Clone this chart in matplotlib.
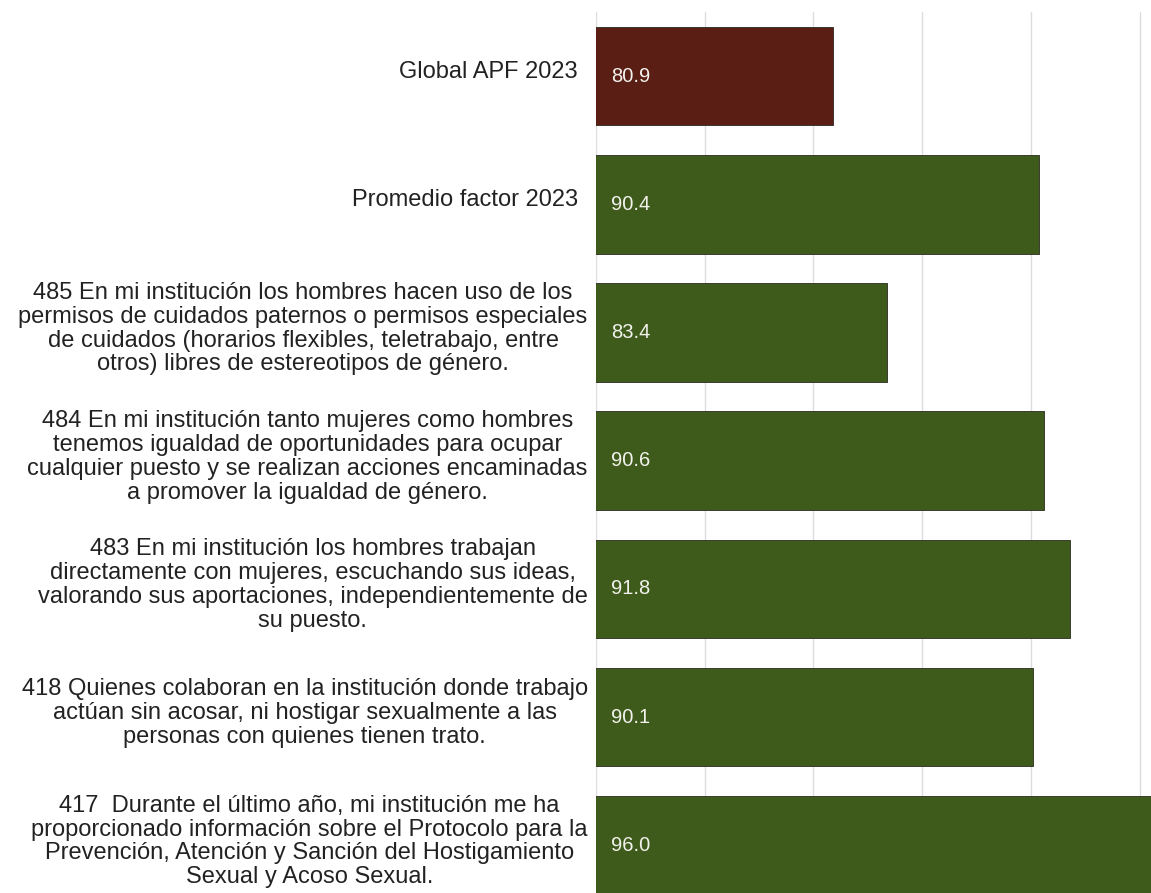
import numpy as np
import matplotlib.pyplot as plt

plt.rcParams['font.family'] = ['Liberation Sans', 'DejaVu Sans']

etiquetas = [
    "Global APF 2023",
    "Promedio factor 2023",
    "485 En mi institución los hombres hacen uso de los\npermisos de cuidados paternos o permisos especiales\nde cuidados (horarios flexibles, teletrabajo, entre\notros) libres de estereotipos de género.",
    "484 En mi institución tanto mujeres como hombres\ntenemos igualdad de oportunidades para ocupar\ncualquier puesto y se realizan acciones encaminadas\na promover la igualdad de género.",
    "483 En mi institución los hombres trabajan\ndirectamente con mujeres, escuchando sus ideas,\nvalorando sus aportaciones, independientemente de\nsu puesto.",
    "418 Quienes colaboran en la institución donde trabajo\nactúan sin acosar, ni hostigar sexualmente a las\npersonas con quienes tienen trato.",
    "417  Durante el último año, mi institución me ha\nproporcionado información sobre el Protocolo para la\nPrevención, Atención y Sanción del Hostigamiento\nSexual y Acoso Sexual.",
]
valores = [80.9, 90.4, 83.4, 90.6, 91.8, 90.1, 96.0]
colores = ["#5a1e14"] + ["#3e5b1b"] * 6

W, H = 1151, 893
fig = plt.figure(figsize=(W / 100, H / 100), dpi=100)
ax = fig.add_axes([596 / W, 0, (W - 596) / W, (H - 12) / H])

y = np.arange(len(valores))
ax.barh(y, valores, left=0, height=0.77, color=colores,
        edgecolor="#2a2a20", linewidth=0.6, zorder=2)

ax.set_xlim(70, 70 + (W - 596) / 21.74)
ax.set_ylim(-0.5 + (H - 12) / 128.2, -0.5)
ax.set_xticks(np.arange(70, 100, 5))
ax.grid(axis="x", color="#dcdcdc", linewidth=1, zorder=0)
ax.tick_params(left=False, bottom=False, labelleft=False, labelbottom=False)
for s in ax.spines.values():
    s.set_visible(False)

for yi, v, lab in zip(y, valores, etiquetas):
    ax.text(70.7, yi, f"{v:.1f}", color="#f2f2ee", fontsize=14.5,
            va="center", ha="left", zorder=3)
    dx = -0.033 if "\n" not in lab else -0.015
    ax.text(dx, yi - 0.03, lab, transform=ax.get_yaxis_transform(),
            ha="right", va="center", multialignment="center",
            fontsize=17, color="#222222", linespacing=1.11, clip_on=False)

fig.savefig("out.png", dpi=100)
